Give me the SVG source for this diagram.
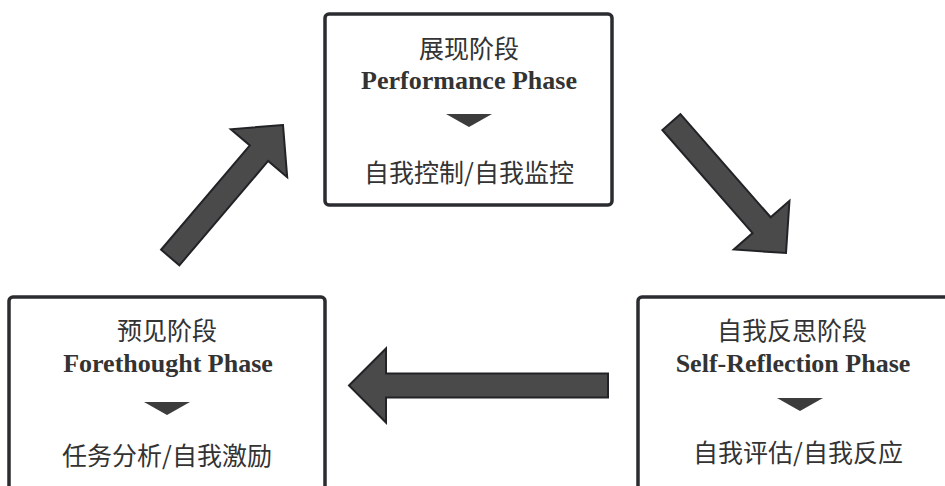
<svg xmlns="http://www.w3.org/2000/svg" width="945" height="486" viewBox="0 0 945 486">
<style>
.box{fill:#fff;stroke:#2b2c30;stroke-width:3.5}
.cn{font-family:"Noto Sans CJK SC","Noto Sans",sans-serif;font-size:25px;fill:#333;text-anchor:middle}
.en{font-family:"Liberation Serif",serif;font-weight:bold;font-size:26px;fill:#333;text-anchor:middle}
.tri{fill:#3c3c3c}
.arrow{fill:#4a4a4a;stroke:#222327;stroke-width:2;stroke-linejoin:miter}
</style>
<defs>
<path id="arrShort" d="M0,0 L-37,-37 L-37,-12 L-174,-12 L-174,12 L-37,12 L-37,37 Z"/>
</defs>
<rect width="945" height="486" fill="#fff"/>
<g id="performance">
<rect class="box" x="325" y="14" width="287" height="191" rx="4"/>
<text class="cn" x="469" y="58">展现阶段</text>
<text class="en" x="469" y="89">Performance Phase</text>
<path class="tri" d="M446,114 L492,114 L469,127 Z"/>
<text class="cn" x="469" y="182">自我控制/自我监控</text>
</g>
<g id="forethought">
<rect class="box" x="9" y="297" width="316" height="200" rx="4"/>
<text class="cn" x="167" y="340">预见阶段</text>
<text class="en" x="168" y="372">Forethought Phase</text>
<path class="tri" d="M144,402 L190,402 L167,415 Z"/>
<text class="cn" x="167" y="465">任务分析/自我激励</text>
</g>
<g id="selfreflection">
<rect class="box" x="638" y="297" width="320" height="200" rx="4"/>
<text class="cn" x="792" y="340">自我反思阶段</text>
<text class="en" x="793" y="372">Self-Reflection Phase</text>
<path class="tri" d="M777,398 L823,398 L800,411 Z"/>
<text class="cn" x="798" y="462">自我评估/自我反应</text>
</g>
<g id="connectors">
<use href="#arrShort" class="arrow" transform="translate(283,125) rotate(-49.6)"/>
<use href="#arrShort" class="arrow" transform="translate(786,253) rotate(48.8)"/>
<path class="arrow" d="M349,385.5 L386,348.5 L386,373.5 L608,373.5 L608,397.5 L386,397.5 L386,422.5 Z"/>
</g>
</svg>
